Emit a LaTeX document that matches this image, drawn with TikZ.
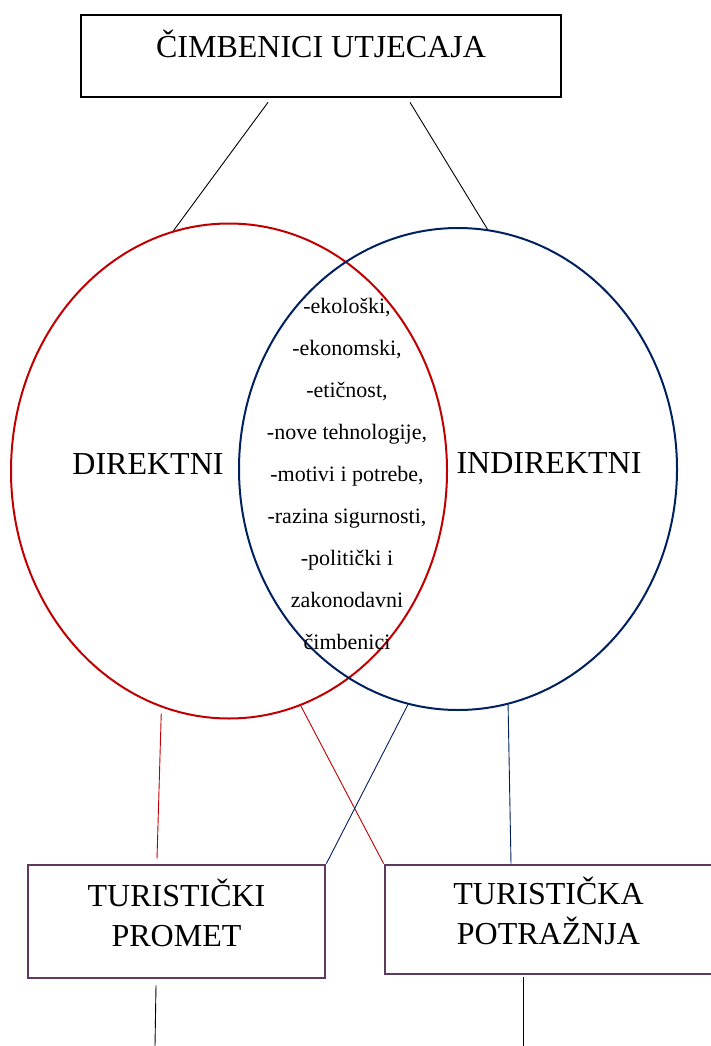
\documentclass[tikz,border=0pt]{standalone}
\usepackage{fontspec}
\setmainfont{Liberation Serif}
\usetikzlibrary{shapes.geometric}
\definecolor{dirred}{RGB}{192,0,0}
\definecolor{indblue}{RGB}{0,32,96}
\definecolor{boxpurple}{RGB}{96,58,94}

\begin{document}
\begin{tikzpicture}[x=1pt,y=-1pt,
  bigtext/.style={font=\fontsize{32}{40}\selectfont},
  kolo/.style={ellipse, draw, line width=2pt, inner sep=0pt},
  okvir/.style={draw=boxpurple, line width=2.7pt, inner sep=0pt, align=center, bigtext},
  veza/.style={line width=0.9pt}]
\useasboundingbox (0,0) rectangle (710,1046);

\node[draw, line width=2.7pt, minimum width=480pt, minimum height=82pt, inner sep=0pt,
  text height=24pt, text depth=20pt, bigtext] (cimbenici) at (321,56) {ČIMBENICI UTJECAJA};

\node[kolo, draw=dirred, minimum width=436pt, minimum height=495pt] (direktni) at (229,471) {};
\node[kolo, draw=indblue, minimum width=438pt, minimum height=482pt] (indirektni) at (458,469) {};

\node[bigtext] (dirtekst) at (148,464) {DIREKTNI};
\node[bigtext] (indtekst) at (549,463) {INDIREKTNI};
\node[font=\fontsize{22}{42}\selectfont, align=center] (zajednicki) at (347,474)
  {-ekološki,\\-ekonomski,\\-etičnost,\\-nove tehnologije,\\-motivi i potrebe,\\
   -razina sigurnosti,\\-politički i\\zakonodavni\\čimbenici};

\node[okvir, minimum width=297pt, minimum height=113pt, text height=60pt, text depth=11pt]
  (promet) at (176.5,921.5) {TURISTIČKI\\PROMET};
\node[okvir, minimum width=327pt, minimum height=109pt, text height=60pt, text depth=11pt]
  (potraznja) at (548.5,919.5) {TURISTIČKA\\POTRAŽNJA};

\coordinate (dolje1) at (155,1046);
\coordinate (dolje2) at (523,1046);

% veze
\draw[veza] ([xshift=-53pt,yshift=-4pt]cimbenici.south) -- (direktni.103);
\draw[veza] ([xshift=89pt,yshift=-4pt]cimbenici.south) -- (indirektni.83);
\draw[veza, dirred] ([yshift=-6pt]direktni.254) -- ([xshift=-19.5pt,yshift=5pt]promet.north);
\draw[veza, dirred] (direktni.287) -- (potraznja.north west);
\draw[veza, indblue] (indirektni.258) -- (promet.north east);
\draw[veza, indblue] (indirektni.282) -- ([xshift=-37.5pt]potraznja.north);
\draw[veza] ([xshift=-20.5pt,yshift=-6pt]promet.south) -- (dolje1);
\draw[veza] ([xshift=-25.5pt,yshift=-2pt]potraznja.south) -- (dolje2);
\end{tikzpicture}
\end{document}
